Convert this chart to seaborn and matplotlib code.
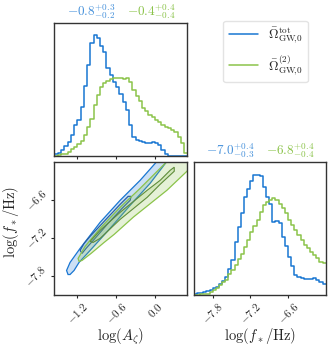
import matplotlib
matplotlib.use("Agg")
import matplotlib.pyplot as plt
import numpy as np
import pandas as pd
import seaborn as sns
from matplotlib.lines import Line2D

blue = "#1976D2"
green = "#8BC34A"
blue_dark = "#255C9E"
green_dark = "#5E8C3A"

# marginal of log(A_zeta): 41 bins of 0.05 from -1.55 to 0.5
az_bins = np.linspace(-1.55, 0.5, 42)
az_tot = [0.01, 0.023, 0.043, 0.076, 0.106, 0.16, 0.23, 0.27, 0.37, 0.53,
          0.685, 0.85, 0.91, 0.887, 0.83, 0.786, 0.66, 0.61, 0.56, 0.52,
          0.463, 0.41, 0.345, 0.23, 0.144, 0.118, 0.113, 0.106, 0.10, 0.10,
          0.106, 0.10, 0.08, 0.043, 0.01, 0, 0, 0, 0, 0, 0]
az_2nd = [0, 0.003, 0.01, 0.015, 0.025, 0.05, 0.068, 0.09, 0.11, 0.156,
          0.22, 0.28, 0.383, 0.458, 0.52, 0.547, 0.564, 0.58, 0.59, 0.59,
          0.584, 0.58, 0.584, 0.554, 0.496, 0.45, 0.413, 0.358, 0.338, 0.31,
          0.29, 0.27, 0.257, 0.23, 0.22, 0.207, 0.194, 0.176, 0.144, 0.093,
          0.018]

# marginal of log(f_*/Hz): 42 bins of 0.05 from -8.1 to -6.0
fs_bins = np.linspace(-8.1, -6.0, 43)
fs_tot = [0.005, 0.013, 0.013, 0.023, 0.03, 0.038, 0.05, 0.063, 0.083, 0.108,
          0.138, 0.193, 0.264, 0.40, 0.515, 0.615, 0.74, 0.80, 0.86, 0.905,
          0.905, 0.897, 0.817, 0.74, 0.69, 0.553, 0.56, 0.545, 0.44, 0.37,
          0.29, 0.22, 0.15, 0.138, 0.126, 0.12, 0.12, 0.12, 0.126, 0.113,
          0.10, 0.083]
fs_2nd = [0, 0.003, 0.005, 0.005, 0.01, 0.023, 0.038, 0.05, 0.073, 0.095,
          0.113, 0.158, 0.19, 0.224, 0.27, 0.31, 0.36, 0.415, 0.477, 0.52,
          0.565, 0.628, 0.678, 0.70, 0.716, 0.728, 0.72, 0.69, 0.653, 0.615,
          0.565, 0.528, 0.49, 0.452, 0.415, 0.377, 0.352, 0.327, 0.30, 0.276,
          0.25, 0.24]

# 2d contours (outer = 2 sigma, inner = 1 sigma)
tot_outer_x = [-1.344, -1.367, -1.313, -1.158, -0.848, -0.538, -0.228, 0.020, 0.051,
               0.206, 0.175, -0.073, -0.383, -0.693, -1.003, -1.174, -1.251, -1.313]
tot_outer_y = [-7.775, -7.711, -7.584, -7.362, -6.949, -6.600, -6.283, -5.997, -5.949,
               -5.949, -5.997, -6.330, -6.679, -7.044, -7.394, -7.584, -7.711, -7.775]
tot_inner_x = [-1.158, -1.096, -1.003, -0.771, -0.538, -0.414, -0.367, -0.383, -0.507,
               -0.724, -0.926, -1.065, -1.127]
tot_inner_y = [-7.394, -7.283, -7.171, -6.917, -6.663, -6.537, -6.537, -6.600, -6.727,
               -6.965, -7.203, -7.362, -7.441]
sec_outer_x = [-1.189, -1.081, -0.848, -0.538, -0.228, 0.175, 0.206, 0.578, 0.578,
               0.186, -0.332, -0.631, -0.786, -0.988, -1.127, -1.174]
sec_outer_y = [-7.521, -7.330, -7.044, -6.711, -6.410, -5.997, -5.949, -5.949, -6.060,
               -6.441, -6.865, -7.140, -7.267, -7.441, -7.552, -7.568]
sec_inner_x = [-1.003, -0.848, -0.538, -0.119, 0.082, 0.237, 0.299, 0.299, 0.082,
               -0.119, -0.538, -0.848, -0.957]
sec_inner_y = [-7.251, -7.076, -6.790, -6.441, -6.283, -6.124, -6.076, -6.140, -6.346,
               -6.552, -6.902, -7.203, -7.267]

az_ticks = [-1.2, -0.6, 0.0]
fs_ticks = [-7.8, -7.2, -6.6]
az_stats = [r"$-0.8^{+0.3}_{-0.2}$", r"$-0.4^{+0.4}_{-0.4}$"]
fs_stats = [r"$-7.0^{+0.4}_{-0.3}$", r"$-6.8^{+0.4}_{-0.4}$"]
labels = [r"$\bar{\Omega}^{\rm tot}_{{\rm GW}\!,\!0}$", r"$\bar{\Omega}^{(2)}_{{\rm GW}\!,\!0}$"]

sns.set_style("ticks")
plt.rcParams["mathtext.fontset"] = "cm"
plt.rcParams["font.family"] = ["DejaVu Serif"]

fig = plt.figure(figsize=(3.33, 3.5), dpi=100)
ax_a = fig.add_axes([0.163, 0.555, 0.3985, 0.378])
ax_c = fig.add_axes([0.163, 0.157, 0.3985, 0.379])
ax_f = fig.add_axes([0.582, 0.157, 0.396, 0.379])


def hist(ax, bins, h, color):
    centers = (bins[:-1] + bins[1:]) / 2
    df = pd.DataFrame({"x": centers, "w": h})
    sns.histplot(data=df, x="x", weights="w", bins=list(bins), element="step",
                 fill=False, color=color, lw=1.1, ax=ax)


hist(ax_a, az_bins, az_tot, blue)
hist(ax_a, az_bins, az_2nd, green)
hist(ax_f, fs_bins, fs_tot, blue)
hist(ax_f, fs_bins, fs_2nd, green)

# contours
for ox, oy, ix, iy, c, cd in [(tot_outer_x, tot_outer_y, tot_inner_x, tot_inner_y, blue, blue_dark),
                              (sec_outer_x, sec_outer_y, sec_inner_x, sec_inner_y, green, green_dark)]:
    ax_c.fill(ox, oy, color=c, alpha=0.22, lw=0)
    ax_c.fill(ox, oy, fc="none", ec=c, lw=0.9)
    ax_c.fill(ix, iy, color=c, alpha=0.18, lw=0)
    ax_c.fill(ix, iy, fc="none", ec=cd, lw=0.8)

az_lim = (-1.557, 0.496)
fs_lim = (-8.1, -6.0)
ax_a.set_xlim(az_lim)
ax_a.set_ylim(0, 1)
ax_c.set_xlim(az_lim)
ax_c.set_ylim(fs_lim)
ax_f.set_xlim(fs_lim)
ax_f.set_ylim(0, 1)

for ax in [ax_a, ax_f]:
    ax.set_yticks([])
    ax.set_ylabel("")
ax_a.set_xticks(az_ticks)
ax_a.set_xticklabels([])
ax_a.set_xlabel("")
ax_c.set_xticks(az_ticks)
ax_c.set_xticklabels([f"${t:.1f}$" for t in az_ticks], rotation=45, fontsize=8)
ax_c.set_yticks(fs_ticks)
ax_c.set_yticklabels([f"${t:.1f}$" for t in fs_ticks], rotation=45, fontsize=8, va="center")
ax_f.set_xticks(fs_ticks)
ax_f.set_xticklabels([f"${t:.1f}$" for t in fs_ticks], rotation=45, fontsize=8)

for ax in [ax_a, ax_c, ax_f]:
    ax.tick_params(length=2.5, width=0.8, pad=1.5)
    for s in ax.spines.values():
        s.set_linewidth(1.0)
        s.set_color("#333333")

ax_c.set_xlabel(r"$\log(A_\zeta)$", fontsize=10.5)
ax_c.set_ylabel(r"$\log(f_*/\mathrm{Hz})$", fontsize=10.5)
ax_f.set_xlabel(r"$\log(f_*/\mathrm{Hz})$", fontsize=10.5)
ax_c.xaxis.set_label_coords(0.5, -0.235)
ax_f.xaxis.set_label_coords(0.5, -0.235)
ax_c.yaxis.set_label_coords(-0.25, 0.55)

for ax, st in [(ax_a, az_stats), (ax_f, fs_stats)]:
    ax.text(0.275, 1.02, st[0], color=blue, alpha=0.8, fontsize=9.5, ha="center",
            va="bottom", transform=ax.transAxes)
    ax.text(0.73, 1.02, st[1], color=green, fontsize=9.5, ha="center",
            va="bottom", transform=ax.transAxes)

handles = [Line2D([], [], color=blue, lw=1.1), Line2D([], [], color=green, lw=1.1)]
fig.legend(handles, labels, loc="upper right", bbox_to_anchor=(0.945, 0.96),
           fontsize=9.5, frameon=True, edgecolor="#dddddd", handlelength=2.2,
           labelspacing=0.55)

fig.savefig("out.png", dpi=100)
